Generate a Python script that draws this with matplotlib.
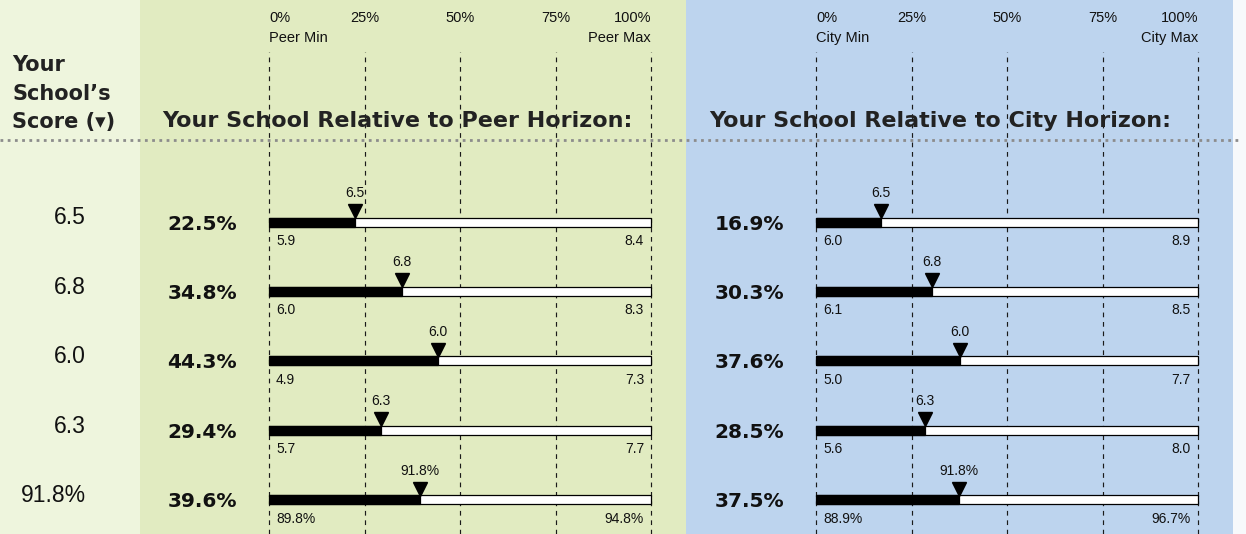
import numpy as np
import matplotlib
matplotlib.use("Agg")
import matplotlib.pyplot as plt
import matplotlib.transforms as mtransforms
from matplotlib.patches import Rectangle

# data
scores = ["6.5", "6.8", "6.0", "6.3", "91.8%"]
peer_pct = [22.5, 34.8, 44.3, 29.4, 39.6]
peer_min = ["5.9", "6.0", "4.9", "5.7", "89.8%"]
peer_max = ["8.4", "8.3", "7.3", "7.7", "94.8%"]
city_pct = [16.9, 30.3, 37.6, 28.5, 37.5]
city_min = ["6.0", "6.1", "5.0", "5.6", "88.9%"]
city_max = ["8.9", "8.5", "7.7", "8.0", "96.7%"]
ticks = [0, 25, 50, 75, 100]
tick_labels = ["0%", "25%", "50%", "75%", "100%"]

W, H = 1246, 534
fig = plt.figure(figsize=(W / 100, H / 100), dpi=100)

SMALL = ["Liberation Sans", "DejaVu Sans"]
BOLD = ["DejaVu Sans"]

# background axes in pixel units
bg = fig.add_axes([0, 0, 1, 1])
bg.set_xlim(0, W)
bg.set_ylim(H, 0)
bg.axis("off")
bg.add_patch(Rectangle((0, 0), 140, H, color="#eef5dd", lw=0))
bg.add_patch(Rectangle((140, 0), 546, H, color="#e1ebc1", lw=0))
bg.add_patch(Rectangle((686, 0), 547, H, color="#bdd4ee", lw=0))
bg.add_patch(Rectangle((1233, 0), 13, H, color="#f7f9fb", lw=0))
bg.plot([0, 1240], [140, 140], color="#8c8c8c", lw=2.0, ls=(0, (1, 1.6)), zorder=1)

for y, line in zip([65, 94, 122], ["Your", "School\u2019s", "Score (\u25be)"]):
    bg.text(12, y, line, fontsize=15, fontweight="bold", family=BOLD, color="#222222", va="center")

row0, rstep = 222, 69.4
top_px = 52
ylim = ((H - row0) / rstep, (top_px - row0) / rstep)
bar_h = 9 / rstep


def px(dx, dy, ax):
    return ax.transData + mtransforms.ScaledTranslation(dx / 100, -dy / 100, fig.dpi_scale_trans)


def panel(x0, pct, mins, maxs, title, lo_name, hi_name):
    ax = fig.add_axes([x0 / W, 0, 382 / W, (H - top_px) / H])
    ax.set_xlim(0, 100)
    ax.set_ylim(*ylim)
    ax.patch.set_alpha(0)
    ax.axis("off")
    for t in ticks:
        ax.axvline(t, color="#1a1a1a", lw=0.85, ls=(0, (4, 4)), zorder=1, clip_on=False)
    # header labels
    for t, lab in zip(ticks, tick_labels):
        ha = "left" if t == 0 else ("right" if t == 100 else "center")
        ax.text(t, ylim[1], lab, transform=px(0, -34, ax), ha=ha, va="center",
                fontsize=10.5, family=SMALL, color="#111111", clip_on=False)
    ax.text(0, ylim[1], lo_name, transform=px(0, -14, ax), ha="left", va="center",
            fontsize=10.5, family=SMALL, color="#111111", clip_on=False)
    ax.text(100, ylim[1], hi_name, transform=px(0, -14, ax), ha="right", va="center",
            fontsize=10.5, family=SMALL, color="#111111", clip_on=False)
    ax.text(0, ylim[1], title, transform=px(-107, 69, ax), ha="left", va="center",
            fontsize=16, fontweight="bold", family=BOLD, color="#222222", clip_on=False)

    rows = np.arange(len(pct))
    ax.barh(rows, [100] * len(rows), height=bar_h, left=0, color="white",
            edgecolor="black", lw=0.9, zorder=3, clip_on=False)
    ax.barh(rows, pct, height=bar_h, left=0, color="black", edgecolor="black", lw=0.9, zorder=4)
    for i in rows:
        ax.plot([pct[i]], [i], marker="v", markersize=9.5, color="black",
                transform=px(0, -11, ax), zorder=5, clip_on=False)
        ax.text(pct[i], i, scores[i], transform=px(0, -29, ax), ha="center", va="center",
                fontsize=10, family=SMALL, color="#111111")
        ax.text(0, i, mins[i], transform=px(7, 19, ax), ha="left", va="center",
                fontsize=10, family=SMALL, color="#111111")
        ax.text(100, i, maxs[i], transform=px(-7, 19, ax), ha="right", va="center",
                fontsize=10, family=SMALL, color="#111111")
        ax.text(0, i, f"{pct[i]:.1f}%", transform=px(-32, 2, ax), ha="right", va="center",
                fontsize=14.5, fontweight="bold", family=BOLD, color="#111111", clip_on=False)
    return ax


ax1 = panel(269, peer_pct, peer_min, peer_max, "Your School Relative to Peer Horizon:", "Peer Min", "Peer Max")
ax2 = panel(816, city_pct, city_min, city_max, "Your School Relative to City Horizon:", "City Min", "City Max")

# left score column, right aligned
for i, s in enumerate(scores):
    ax1.text(0, i, s, transform=px(-183, -4, ax1), ha="right", va="center",
             fontsize=16.5, family=SMALL, color="#111111", clip_on=False)

fig.savefig("out.png", dpi=100)
